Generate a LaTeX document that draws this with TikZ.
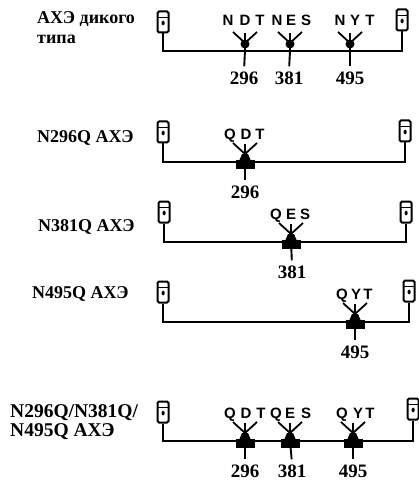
\documentclass[tikz,border=0pt]{standalone}
\usepackage{fontspec}
\setmainfont{Liberation Serif}
\setsansfont{Liberation Sans}
\usetikzlibrary{calc}

% glycan tree standing on a site of the chain
\newcommand{\glyco}[1]{%
  \draw[arm] (#1) -- ++(0,-8) coordinate (#1-j) -- ++(-12,-11);
  \draw[arm] (#1-j) -- ++(12,-11);
  \draw[arm] (#1-j) -- ++(0,-10);
}
% N -> Q block on the chain
\newcommand{\qblock}[1]{%
  \fill (#1) ++(-9.5,-2) rectangle ++(19,9);
  \fill (#1) ++(-6,-1) -- ++(12,0) -- ++(-3,-7) -- ++(-6,0) -- cycle;
}

\tikzset{
  bb/.style={line width=1.9pt},
  arm/.style={line width=1.8pt},
  termbox/.style={draw, line width=2pt, rounded corners=1.5pt,
    minimum width=11pt, minimum height=21pt, inner sep=0pt,
    path picture={
      \draw[line width=0.9pt] ([yshift=-6pt]path picture bounding box.north west)
        -- ([yshift=-6pt]path picture bounding box.north east);
      \fill ([xshift=-1.5pt,yshift=-9pt]path picture bounding box.north)
        rectangle ++(3pt,-5pt);}},
  lbl/.style={anchor=west, inner sep=0pt, align=left,
    font=\bfseries\fontsize{18}{20}\selectfont},
  res/.style={inner sep=0pt, anchor=base,
    font=\sffamily\bfseries\fontsize{15}{17}\selectfont},
  num/.style={inner sep=1pt, font=\bfseries\fontsize{19}{21}\selectfont},
  tick/.style={bb, shorten >=4pt},
}

\begin{document}
\begin{tikzpicture}[x=1pt, y=-1pt]
  \useasboundingbox (0,0) rectangle (418,481);

  % ---- wild type
  \node[lbl] (lab1) at (37,28) {АХЭ дикого\\типа};
  \node[termbox] (L1) at (163,22) {};
  \node[termbox] (R1) at (402,20) {};
  \coordinate (s11) at (245,51);
  \coordinate (s12) at (290,51);
  \coordinate (s13) at (350,51);
  \draw[bb] (L1.south) |- (s13) -| (R1.south);
  \foreach \s in {s11,s12,s13} {
    \glyco{\s}
    \fill (\s) ++(0,-7) circle (4.5pt);
  }
  \foreach \x/\t [count=\i] in {228/N,245/D,260/T,277/N,291/E,306/S,340/N,355/Y,370/T}
    \node[res] (t1-\i) at (\x,26) {\t};
  \node[num] (n11) at (244,78) {296};
  \node[num] (n12) at (289,78) {381};
  \node[num] (n13) at (350,78) {495};
  \foreach \i in {1,2,3} \draw[tick] (s1\i) -- (n1\i.north);

  % ---- N296Q
  \node[lbl] (lab2) at (37,138) {N296Q АХЭ};
  \node[termbox] (L2) at (163,132) {};
  \node[termbox] (R2) at (405,131) {};
  \coordinate (s21) at (245,162);
  \draw[bb] (L2.south) |- (s21) -| (R2.south);
  \glyco{s21}
  \qblock{s21}
  \foreach \x/\t [count=\i] in {230/Q,246/D,260/T}
    \node[res] (t2-\i) at (\x,140) {\t};
  \node[num] (n21) at (245,192) {296};
  \draw[tick] (s21) -- (n21.north);

  % ---- N381Q
  \node[lbl] (lab3) at (38,227) {N381Q АХЭ};
  \node[termbox] (L3) at (164,212) {};
  \node[termbox] (R3) at (406,212) {};
  \coordinate (s31) at (291,242);
  \draw[bb] (L3.south) |- (s31) -| (R3.south);
  \glyco{s31}
  \qblock{s31}
  \foreach \x/\t [count=\i] in {276/Q,291/E,305/S}
    \node[res] (t3-\i) at (\x,219) {\t};
  \node[num] (n31) at (292,272) {381};
  \draw[tick] (s31) -- (n31.north);

  % ---- N495Q
  \node[lbl] (lab4) at (32,294) {N495Q АХЭ};
  \node[termbox] (L4) at (163,292) {};
  \node[termbox] (R4) at (409,291) {};
  \coordinate (s41) at (355,322);
  \draw[bb] (L4.south) |- (s41) -| (R4.south);
  \glyco{s41}
  \qblock{s41}
  \foreach \x/\t [count=\i] in {342/Q,356/Y,368/T}
    \node[res] (t4-\i) at (\x,299) {\t};
  \node[num] (n41) at (355,352) {495};
  \draw[tick] (s41) -- (n41.north);

  % ---- triple mutant
  \node[lbl, font=\bfseries\fontsize{19.5}{19}\selectfont] (lab5) at (10,422)
    {N296Q/N381Q/\\N495Q АХЭ};
  \node[termbox] (L5) at (163,412) {};
  \node[termbox] (R5) at (413,409) {};
  \coordinate (s51) at (245,441);
  \coordinate (s52) at (290,441);
  \coordinate (s53) at (353,441);
  \draw[bb] (L5.south) |- (s53) -| (R5.south);
  \foreach \s in {s51,s52,s53} {
    \glyco{\s}
    \qblock{\s}
  }
  \foreach \x/\t [count=\i] in {230/Q,246/D,261/T,276/Q,290/E,306/S,342/Q,358/Y,370/T}
    \node[res] (t5-\i) at (\x,418) {\t};
  \node[num] (n51) at (245,471) {296};
  \node[num] (n52) at (292,471) {381};
  \node[num] (n53) at (353,471) {495};
  \foreach \i in {1,2,3} \draw[tick] (s5\i) -- (n5\i.north);
\end{tikzpicture}
\end{document}
